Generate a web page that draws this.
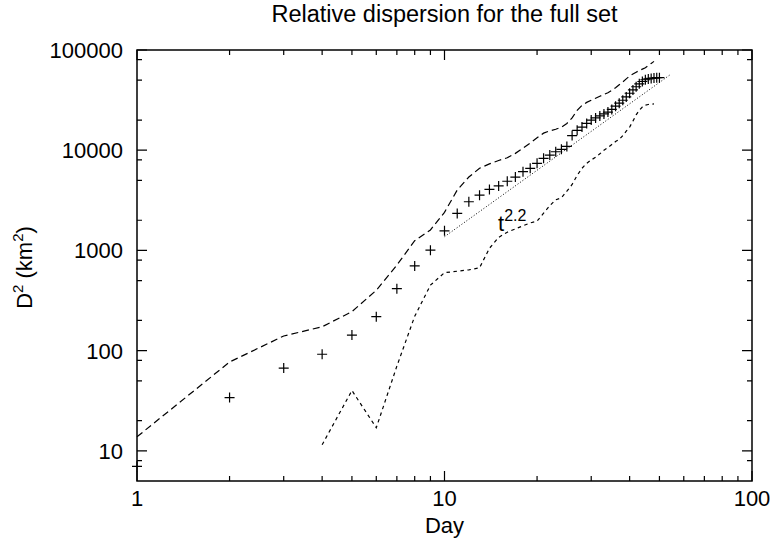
<!DOCTYPE html>
<html>
<head>
<meta charset="utf-8">
<script src="https://cdn.jsdelivr.net/npm/d3@7"></script>
<style>
  body { margin: 0; background: #fff; }
  svg { display: block; }
  text { font-family: 'Liberation Sans', Arial, Helvetica, sans-serif; fill: #000; }
</style>
</head>
<body>
<div id="chart"></div>
<script>
const WIDTH = 771
const HEIGHT = 550

// mean relative dispersion, one marker per day
const days = d3.range(1, 51)
const dispersion = [
  7, 34, 67, 92, 143, 218, 415, 700, 1005, 1570,
  2340, 3060, 3560, 4060, 4400, 4900, 5400, 6100, 6600, 7400,
  8300, 8950, 9650, 10200, 10900, 14000, 15800, 17000, 18500, 20000,
  21000, 22000, 23000, 24000, 25500, 27500, 29500, 31500, 34000, 37000,
  40000, 43000, 46000, 48500, 50500, 51500, 52000, 52500, 53000, 53000,
]

// upper envelope (long dashes), days 1..48
const upperDays = d3.range(1, 49)
const upperValues = [
  13.8, 77, 140, 173, 245, 400, 714, 1250, 1600, 2400,
  4000, 5400, 6600, 7300, 7900, 8400, 9300, 10500, 11800, 13300,
  14800, 15600, 16200, 17000, 18500, 21000, 25000, 28000, 30000, 31500,
  33000, 34500, 36000, 37500, 39500, 42000, 45000, 48000, 51500, 55000,
  57500, 60000, 62500, 64500, 66500, 70000, 73500, 77000,
]

// lower envelope (short dashes), days 4..48
const lowerDays = d3.range(4, 49)
const lowerValues = [
  11.5, 40, 17, 70, 220, 450, 600, 620, 640, 670,
  1050, 1350, 1520, 1640, 1760, 1880, 1960, 2350, 2800, 3200,
  3350, 3900, 4550, 5600, 6600, 7400, 8000, 8500, 9200, 10000,
  10600, 11400, 12200, 12800, 14000, 15500, 17000, 19500, 22500, 25000,
  27000, 28200, 28600, 28800, 29000,
]

// t^2.2 reference line
const fitDays = [10, 54.5]
const fitValues = [1370, 57400]

const xTicks = [1, 10, 100]
const yTicks = [10, 100, 1000, 10000, 100000]

const margin = { top: 50, right: 19, bottom: 69, left: 137 }

const svg = d3
  .select('#chart')
  .append('svg')
  .attr('width', WIDTH)
  .attr('height', HEIGHT)

const x = d3
  .scaleLog()
  .domain([1, 100])
  .range([margin.left, WIDTH - margin.right])

const y = d3
  .scaleLog()
  .domain([5, 100000])
  .range([HEIGHT - margin.bottom, margin.top])

const [x0, x1] = x.range()
const [y0, y1] = y.range()

// minor ticks: 2..9 per decade on x, 2/5/8 per decade on y
const xMinor = []
for (let dec = 1; dec < 100; dec *= 10) {
  for (let k = 2; k <= 9; k++) xMinor.push(k * dec)
}
const yMinor = []
for (let dec = 1; dec < 100000; dec *= 10) {
  ;[2, 5, 8].forEach(k => {
    if (k * dec > 5 && k * dec < 100000) yMinor.push(k * dec)
  })
}

const tickG = svg.append('g').attr('stroke', '#000').attr('stroke-width', 1.2)

const xTickData = xTicks.map(v => ({ v, len: 10 })).concat(xMinor.map(v => ({ v, len: 5 })))
tickG
  .selectAll('.xt')
  .data(xTickData)
  .join('path')
  .attr('class', 'xt')
  .attr('d', d => `M${x(d.v)},${y0}v${-d.len}M${x(d.v)},${y1}v${d.len}`)

const yTickData = yTicks.map(v => ({ v, len: 10 })).concat(yMinor.map(v => ({ v, len: 5 })))
tickG
  .selectAll('.yt')
  .data(yTickData)
  .join('path')
  .attr('class', 'yt')
  .attr('d', d => `M${x0},${y(d.v)}h${d.len}M${x1},${y(d.v)}h${-d.len}`)

// frame
svg
  .append('rect')
  .attr('x', x0)
  .attr('y', y1)
  .attr('width', x1 - x0)
  .attr('height', y0 - y1)
  .attr('fill', 'none')
  .attr('stroke', '#000')
  .attr('stroke-width', 1.5)

// tick labels
svg
  .append('g')
  .selectAll('text')
  .data(xTicks)
  .join('text')
  .attr('x', d => x(d))
  .attr('y', y0 + 25)
  .attr('text-anchor', 'middle')
  .attr('font-size', '22px')
  .text(d => d)

svg
  .append('g')
  .selectAll('text')
  .data(yTicks)
  .join('text')
  .attr('x', x0 - 14)
  .attr('y', d => y(d))
  .attr('dy', '0.36em')
  .attr('text-anchor', 'end')
  .attr('font-size', '22px')
  .text(d => d)

// axis titles
svg
  .append('text')
  .attr('x', (x0 + x1) / 2)
  .attr('y', HEIGHT - 17)
  .attr('text-anchor', 'middle')
  .attr('font-size', '22px')
  .text('Day')

const yLabel = svg
  .append('text')
  .attr('transform', `translate(32,${(y0 + y1) / 2 + 2}) rotate(-90)`)
  .attr('text-anchor', 'middle')
  .attr('font-size', '22px')
yLabel.append('tspan').text('D')
yLabel.append('tspan').attr('font-size', '15px').attr('dy', '-9').text('2')
yLabel.append('tspan').attr('dy', '9').text(' (km')
yLabel.append('tspan').attr('font-size', '15px').attr('dy', '-9').text('2')
yLabel.append('tspan').attr('dy', '9').text(')')

svg
  .append('text')
  .attr('x', (x0 + x1) / 2)
  .attr('y', 22)
  .attr('text-anchor', 'middle')
  .attr('font-size', '23.5px')
  .text('Relative dispersion for the full set')

// curves
const line = d3
  .line()
  .x(d => x(d[0]))
  .y(d => y(d[1]))

svg
  .append('path')
  .datum(d3.zip(upperDays, upperValues))
  .attr('d', line)
  .attr('fill', 'none')
  .attr('stroke', '#000')
  .attr('stroke-width', 1.2)
  .style('stroke-dasharray', '7, 4')

svg
  .append('path')
  .datum(d3.zip(lowerDays, lowerValues))
  .attr('d', line)
  .attr('fill', 'none')
  .attr('stroke', '#000')
  .attr('stroke-width', 1.2)
  .style('stroke-dasharray', '3.5, 3.5')

svg
  .append('path')
  .datum(d3.zip(fitDays, fitValues))
  .attr('d', line)
  .attr('fill', 'none')
  .attr('stroke', '#000')
  .attr('stroke-width', 1)
  .style('stroke-dasharray', '1, 2')

// markers
svg
  .append('g')
  .attr('stroke', '#000')
  .attr('stroke-width', 1.2)
  .selectAll('path')
  .data(d3.zip(days, dispersion))
  .join('path')
  .attr('d', d => `M${x(d[0]) - 5},${y(d[1])}h10M${x(d[0])},${y(d[1]) - 5}v10`)

// fit label
const fitLabel = svg
  .append('text')
  .attr('x', 498)
  .attr('y', 231)
  .attr('font-size', '22px')
fitLabel.append('tspan').text('t')
fitLabel.append('tspan').attr('font-size', '16px').attr('dy', '-10').text('2.2')
</script>
</body>
</html>
